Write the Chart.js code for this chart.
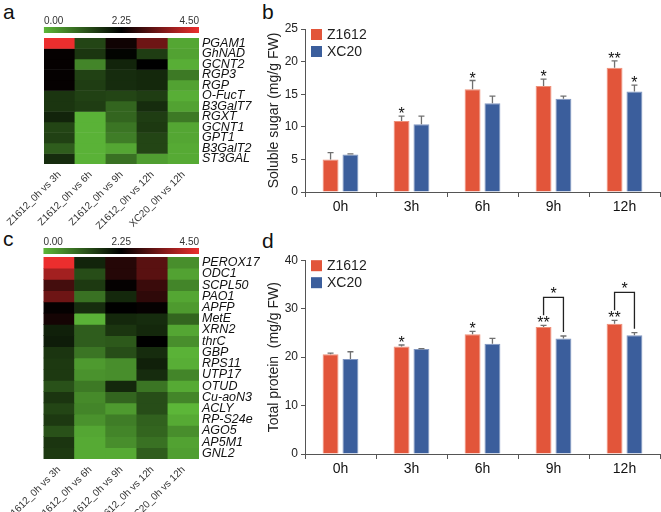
<!DOCTYPE html>
<html>
<head>
<meta charset="utf-8">
<script src="https://cdn.jsdelivr.net/npm/chart.js@4.4.1/dist/chart.umd.min.js"></script>
<style>
  body { margin: 0; background: #fff; width: 661px; height: 512px; position: relative; overflow: hidden; font-family: "Liberation Sans", Arial, sans-serif; }
  .box { position: absolute; }
  .tag { position: absolute; font-size: 21px; color: #111; line-height: 1; }
</style>
</head>
<body>
<div class="tag" style="left:3px;top:1px">a</div>
<div class="tag" style="left:262px;top:1px">b</div>
<div class="tag" style="left:3px;top:228px">c</div>
<div class="tag" style="left:262px;top:230px">d</div>

<div class="box" style="left:0;top:0;width:260px;height:240px"><canvas id="heatA"></canvas></div>
<div class="box" style="left:0;top:226px;width:260px;height:286px"><canvas id="heatC"></canvas></div>
<div class="box" style="left:262px;top:0;width:399px;height:222px"><canvas id="sugarChart"></canvas></div>
<div class="box" style="left:262px;top:250px;width:399px;height:234px"><canvas id="proteinChart"></canvas></div>

<script>
// heatmap columns
const conditions = ['Z1612_0h vs 3h', 'Z1612_0h vs 6h', 'Z1612_0h vs 9h', 'Z1612_0h vs 12h', 'XC20_0h vs 12h'];

// panel a (log2 values, 0 - 4.5)
const genesA = ['PGAM1', 'GhNAD', 'GCNT2', 'RGP3', 'RGP', 'O-FucT', 'B3GalT7', 'RGXT', 'GCNT1', 'GPT1', 'B3GalT2', 'ST3GAL'];
const valuesA = [
    [4.5, 1.4, 2.4, 3.3, 0.2],
    [2.3, 1.6, 2.2, 1.5, 0.25],
    [2.3, 0.6, 1.8, 2.25, 0.1],
    [2.3, 1.45, 1.7, 1.75, 0.75],
    [2.3, 1.5, 1.7, 1.75, 0.25],
    [1.6, 1.45, 1.4, 1.5, 0.1],
    [1.6, 1.5, 1.0, 1.7, 0.25],
    [1.8, 0.05, 1.0, 1.5, 0.75],
    [1.4, 0.05, 0.8, 1.55, 0.2],
    [1.45, 0.05, 0.7, 1.4, 0.2],
    [1.1, 0.05, 0.2, 1.4, 0.15],
    [1.7, 0.05, 0.85, 0.3, 0.15]
];

// panel c
const genesC = ['PEROX17', 'ODC1', 'SCPL50', 'PAO1', 'APFP', 'MetE', 'XRN2', 'thrC', 'GBP', 'RPS11', 'UTP17', 'OTUD', 'Cu-aoN3', 'ACLY', 'RP-S24e', 'AGO5', 'AP5M1', 'GNL2'];
const valuesC = [
    [4.5, 1.8, 2.6, 3.1, 0.5],
    [3.8, 1.3, 2.6, 3.1, 0.25],
    [2.9, 1.55, 2.3, 2.8, 0.6],
    [3.3, 0.85, 1.75, 2.7, 0.2],
    [2.3, 1.7, 2.25, 2.3, 0.35],
    [2.45, 0.05, 1.75, 1.7, 1.0],
    [1.85, 1.1, 1.6, 1.75, 0.2],
    [1.9, 1.1, 1.15, 2.25, 0.5],
    [1.6, 0.8, 1.3, 1.7, 0.05],
    [1.55, 0.35, 0.5, 1.85, 0.1],
    [1.55, 0.45, 0.5, 1.7, 0.6],
    [1.25, 0.75, 1.75, 0.8, 0.15],
    [1.6, 0.55, 1.0, 1.3, 0.6],
    [1.4, 0.6, 0.35, 1.3, 0.0],
    [1.55, 0.45, 0.7, 1.05, 0.15],
    [1.25, 0.2, 0.6, 1.0, 0.5],
    [1.6, 0.15, 0.5, 0.85, 0.25],
    [1.55, 0.15, 0.15, 1.1, 0.3]
];
const scaleTicks = ['0.00', '2.25', '4.50'];

// bar charts
const hours = ['0h', '3h', '6h', '9h', '12h'];
const sugarZ1612 = [4.98, 10.9, 15.75, 16.25, 19.05];
const sugarZ1612Err = [1.07, 0.75, 1.35, 1.05, 1.05];
const sugarXC20 = [5.75, 10.4, 13.6, 14.3, 15.4];
const sugarXC20Err = [0.1, 1.25, 1.1, 0.4, 1.0];
const sugarZ1612Sig = ['', '*', '*', '*', '**'];
const sugarXC20Sig = ['', '', '', '', '*'];

const proteinZ1612 = [20.6, 22.2, 24.7, 26.2, 26.9];
const proteinZ1612Err = [0.2, 0.3, 0.6, 0.35, 0.7];
const proteinXC20 = [19.6, 21.65, 22.75, 23.85, 24.5];
const proteinXC20Err = [1.5, 0.1, 1.1, 0.5, 0.55];
const proteinZ1612Sig = ['', '*', '*', '**', '**'];
const proteinXC20Sig = ['', '', '', '', ''];
const proteinPairSig = ['', '', '', '*', '*'];

const FONT = '"Liberation Sans", Arial, sans-serif';
Chart.defaults.font.family = FONT;
Chart.defaults.color = '#222';
Chart.defaults.animation = false;

// green -> black -> red, 0 .. 4.5
const GREEN = [92, 182, 56], RED = [236, 46, 46];
function heatColor(v) {
    const t = Math.max(0, Math.min(1, v / 4.5));
    let c;
    if (t < 0.5) {
        const k = 1 - t / 0.5;
        c = GREEN.map(x => Math.round(x * k));
    } else {
        const k = (t - 0.5) / 0.5;
        c = RED.map(x => Math.round(x * k));
    }
    return 'rgb(' + c.join(',') + ')';
}

const colorBarPlugin = {
    id: 'colorBar',
    afterDraw(chart, args, opts) {
        const ctx = chart.ctx, a = chart.chartArea;
        const y0 = a.top - opts.gap - opts.height;
        const g = ctx.createLinearGradient(a.left, 0, a.right, 0);
        g.addColorStop(0, 'rgb(' + GREEN.join(',') + ')');
        g.addColorStop(0.5, '#000');
        g.addColorStop(1, 'rgb(' + RED.join(',') + ')');
        ctx.save();
        ctx.fillStyle = g;
        ctx.fillRect(a.left, y0, a.right - a.left, opts.height);
        ctx.fillStyle = '#333';
        ctx.font = '10px ' + FONT;
        ctx.textBaseline = 'alphabetic';
        const ys = y0 - 3;
        ctx.textAlign = 'left';
        ctx.fillText(scaleTicks[0], a.left, ys);
        ctx.textAlign = 'center';
        ctx.fillText(scaleTicks[1], (a.left + a.right) / 2, ys);
        ctx.textAlign = 'right';
        ctx.fillText(scaleTicks[2], a.right, ys);
        ctx.restore();
    }
};

function heatmap(id, genes, values, pad, xHeight, gap) {
    const datasets = genes.map((g, i) => ({
        label: g,
        data: conditions.map(() => 1),
        backgroundColor: values[i].map(heatColor),
        borderWidth: 0,
        barPercentage: 1,
        categoryPercentage: 1
    }));
    return new Chart(document.getElementById(id), {
        type: 'bar',
        data: { labels: conditions, datasets: datasets },
        plugins: [colorBarPlugin],
        options: {
            responsive: true,
            maintainAspectRatio: false,
            layout: { padding: pad },
            plugins: {
                legend: { display: false },
                tooltip: { enabled: false },
                colorBar: { gap: gap, height: 6 }
            },
            scales: {
                x: {
                    stacked: true,
                    grid: { display: false, drawTicks: false },
                    border: { display: false },
                    ticks: { minRotation: 45, maxRotation: 45, padding: 5, color: '#333', font: { size: 10 } },
                    afterFit(s) { s.height = xHeight; }
                },
                y: {
                    stacked: true,
                    position: 'right',
                    reverse: true,
                    min: 0,
                    max: genes.length,
                    grid: { display: false, drawTicks: false },
                    border: { display: false },
                    afterBuildTicks(s) { s.ticks = genes.map((g, i) => ({ value: i + 0.5 })); },
                    ticks: {
                        autoSkip: false,
                        padding: 3,
                        color: '#111',
                        font: { size: 12.5, style: 'italic' },
                        callback: v => genes[Math.floor(v)]
                    },
                    afterFit(s) { s.width = 61; }
                }
            }
        }
    });
}

heatmap('heatA', genesA, valuesA, { left: 37, top: 38, right: 0, bottom: 0 }, 76, 5);
heatmap('heatC', genesC, valuesC, { left: 33, top: 31, right: 0, bottom: 0 }, 53, 3);

// error bars, stars, brackets and legend for the bar charts
const barExtras = {
    id: 'barExtras',
    afterDatasetsDraw(chart, args, opts) {
        const ctx = chart.ctx, y = chart.scales.y;
        ctx.save();
        const tops = [];
        chart.data.datasets.forEach((ds, di) => {
            const meta = chart.getDatasetMeta(di);
            tops[di] = [];
            meta.data.forEach((bar, i) => {
                const top = y.getPixelForValue(ds.data[i] + ds.errors[i]);
                tops[di][i] = top;
                ctx.strokeStyle = '#707070';
                ctx.lineWidth = 1.3;
                ctx.beginPath();
                ctx.moveTo(bar.x, bar.y);
                ctx.lineTo(bar.x, top);
                ctx.moveTo(bar.x - 3, top);
                ctx.lineTo(bar.x + 3, top);
                ctx.stroke();
                if (ds.stars[i]) {
                    ctx.fillStyle = '#111';
                    ctx.font = '16px ' + FONT;
                    ctx.textAlign = 'center';
                    ctx.textBaseline = 'alphabetic';
                    ctx.fillText(ds.stars[i], bar.x, top + opts.starLift);
                }
            });
        });
        (opts.pairs || []).forEach((s, i) => {
            if (!s) return;
            const b0 = chart.getDatasetMeta(0).data[i], b1 = chart.getDatasetMeta(1).data[i];
            const t0 = tops[0][i], t1 = tops[1][i];
            const top = Math.min(t0, t1) - 28;
            ctx.strokeStyle = '#222';
            ctx.lineWidth = 1.3;
            ctx.beginPath();
            ctx.moveTo(b0.x, t0 - 10);
            ctx.lineTo(b0.x, top);
            ctx.lineTo(b1.x, top);
            ctx.lineTo(b1.x, t1 - 4);
            ctx.stroke();
            ctx.fillStyle = '#111';
            ctx.font = '16px ' + FONT;
            ctx.textAlign = 'center';
            ctx.fillText(s, (b0.x + b1.x) / 2, top + 2);
        });
        // legend in the top-left corner of the plot
        const a = chart.chartArea;
        chart.data.datasets.forEach((ds, di) => {
            const yy = a.top + di * 17;
            ctx.fillStyle = ds.backgroundColor;
            ctx.fillRect(a.left + 6, yy, 11, 11);
            ctx.fillStyle = '#222';
            ctx.font = '14px ' + FONT;
            ctx.textAlign = 'left';
            ctx.textBaseline = 'middle';
            ctx.fillText(ds.label, a.left + 22, yy + 6);
        });
        ctx.restore();
    }
};

function barChart(id, z, zErr, zSig, x, xErr, xSig, pairs, max, step, title, padTop) {
    return new Chart(document.getElementById(id), {
        type: 'bar',
        data: {
            labels: hours,
            datasets: [
                { label: 'Z1612', data: z, errors: zErr, stars: zSig, backgroundColor: '#e2553a', borderColor: '#ee9179', borderWidth: 1 },
                { label: 'XC20', data: x, errors: xErr, stars: xSig, backgroundColor: '#3b5e9c', borderColor: '#8197c2', borderWidth: 1 }
            ]
        },
        plugins: [barExtras],
        options: {
            responsive: true,
            maintainAspectRatio: false,
            categoryPercentage: 0.56,
            barPercentage: 0.8,
            layout: { padding: { top: padTop, right: 1, left: 0, bottom: 0 } },
            plugins: {
                legend: { display: false },
                tooltip: { enabled: false },
                barExtras: { pairs: pairs, starLift: 3 }
            },
            scales: {
                x: {
                    grid: { drawOnChartArea: false, tickLength: 5, color: '#555' },
                    border: { color: '#555', width: 1 },
                    ticks: { color: '#111', font: { size: 14 }, padding: 2 },
                    afterFit(s) { s.height = 30; }
                },
                y: {
                    min: 0,
                    max: max,
                    ticks: { stepSize: step, color: '#222', font: { size: 12 }, padding: 3 },
                    grid: { drawOnChartArea: false, tickLength: 4, color: '#555' },
                    border: { color: '#555', width: 1 },
                    title: { display: true, text: title, color: '#222', font: { size: 14 } },
                    afterFit(s) { s.width = 43; }
                }
            }
        }
    });
}

barChart('sugarChart', sugarZ1612, sugarZ1612Err, sugarZ1612Sig, sugarXC20, sugarXC20Err, sugarXC20Sig,
    null, 25, 5, 'Soluble sugar (mg/g FW)', 29);
barChart('proteinChart', proteinZ1612, proteinZ1612Err, proteinZ1612Sig, proteinXC20, proteinXC20Err, proteinXC20Sig,
    proteinPairSig, 40, 10, 'Total protein  (mg/g FW)', 10);
</script>
</body>
</html>
